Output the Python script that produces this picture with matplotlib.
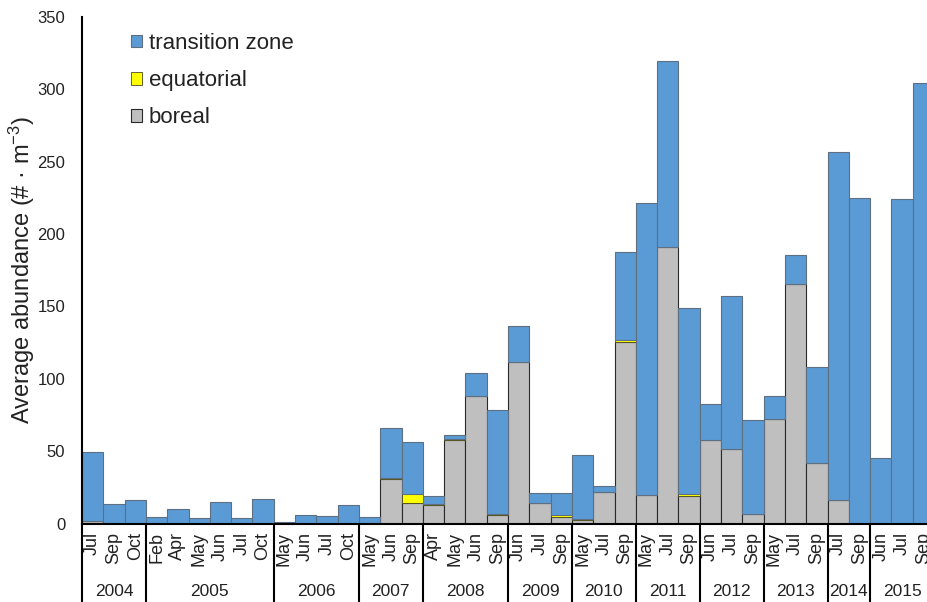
import matplotlib
matplotlib.use("Agg")
import matplotlib.pyplot as plt
import matplotlib.transforms as mtransforms
import numpy as np

plt.rcParams['font.family'] = ['Liberation Sans', 'DejaVu Sans']
plt.rcParams['mathtext.default'] = 'regular'

months = ['Jul', 'Sep', 'Oct',
          'Feb', 'Apr', 'May', 'Jun', 'Jul', 'Oct',
          'May', 'Jun', 'Jul', 'Oct',
          'May', 'Jun', 'Sep',
          'Apr', 'May', 'Jun', 'Sep',
          'Jun', 'Jul', 'Sep',
          'May', 'Jul', 'Sep',
          'May', 'Jul', 'Sep',
          'Jun', 'Jul', 'Sep',
          'May', 'Jul', 'Sep',
          'Jul', 'Sep',
          'Jun', 'Jul', 'Sep']
years = ['2004', '2005', '2006', '2007', '2008', '2009', '2010', '2011',
         '2012', '2013', '2014', '2015']
year_sizes = [3, 6, 4, 3, 4, 3, 3, 3, 3, 3, 2, 3]

boreal = [1.6, 0, 0,
          0, 0, 0, 0, 0, 0,
          0, 0, 0, 0,
          0.6, 31.0, 14.0,
          12.8, 57.5, 88.2, 5.8,
          111.7, 14.0, 4.7,
          2.3, 21.7, 125.7,
          19.9, 191.1, 19.2,
          57.9, 51.4, 6.5,
          71.9, 165.4, 41.6,
          16.4, 0,
          0, 0, 0]
equatorial = [0, 0, 0,
              0, 0, 0, 0, 0, 0,
              0, 0, 0, 0,
              0, 0.5, 6.2,
              0.9, 0.7, 0, 0.8,
              0, 0, 1.5,
              0.7, 0, 0.9,
              0, 0, 1.1,
              0, 0, 0,
              0, 0, 0.5,
              0, 0,
              0, 0, 0]
transition = [48.0, 13.3, 16.0,
              4.7, 10.0, 4.0, 14.6, 4.0, 16.7,
              0.8, 6.1, 5.4, 12.8,
              3.7, 34.3, 36.2,
              5.3, 3.0, 15.7, 71.7,
              25.0, 7.0, 14.8,
              44.4, 4.0, 60.7,
              201.5, 128.7, 128.7,
              25.0, 105.6, 65.0,
              16.4, 20.3, 65.8,
              240.5, 224.7,
              45.1, 224.2, 304.1]

W, H = 927, 602
fig = plt.figure(figsize=(W / 100, H / 100), dpi=100)
x0, x1 = 82, 934
y0, y1 = 523.5, 17
ax = fig.add_axes([x0 / W, 1 - y0 / H, (x1 - x0) / W, (y0 - y1) / H])

x = np.arange(len(months))
b = np.array(boreal)
e = np.array(equatorial)
t = np.array(transition)
txtc = '#222222'

ax.bar(x, b, width=1.0, color='#BFBFBF', edgecolor='#2a2a2a', linewidth=0.8, label='boreal')
ax.bar(x, e, width=1.0, bottom=b, color='#FFFF00', edgecolor='#4a4a20', linewidth=0.6, label='equatorial')
ax.bar(x, t, width=1.0, bottom=b + e, color='#5B9BD5', edgecolor='#5f6f82', linewidth=0.8, label='transition zone')

ax.set_xlim(-0.5, len(months) - 0.5)
ax.set_ylim(0, 350)
ax.set_yticks(np.arange(0, 351, 50))
for s in ['top', 'right']:
    ax.spines[s].set_visible(False)
ax.spines['left'].set_linewidth(1.5)
ax.spines['bottom'].set_linewidth(1.5)
ax.spines['left'].set_color('black')
ax.spines['bottom'].set_color('black')
ax.tick_params(axis='y', length=0, pad=12, labelsize=12, labelcolor=txtc)
ax.set_xticks(x)
ax.set_xticklabels(months, rotation=90, fontsize=13, color=txtc)
ax.tick_params(axis='x', length=0, pad=6)

trans = mtransforms.blended_transform_factory(ax.transData, ax.transAxes)
bottom_ax = -(H - y0 + 5) / (y0 - y1)
year_y = -(592 - y0) / (y0 - y1)
start = 0
bounds = [0]
for yr, n in zip(years, year_sizes):
    ax.text(start + n / 2 - 0.5, year_y, yr, transform=trans, ha='center', va='center',
            fontsize=12.5, color=txtc)
    start += n
    bounds.append(start)
for bd in bounds:
    ax.plot([bd - 0.5, bd - 0.5], [0, bottom_ax], transform=trans, color='black',
            linewidth=1.5, clip_on=False, solid_capstyle='butt')

fig.text(22 / W, 1 - 270 / H, 'Average abundance (# · m$^{-3}$)', rotation=90,
         ha='center', va='center', fontsize=17, color=txtc)

handles, labels = ax.get_legend_handles_labels()
leg = ax.legend(handles[::-1], labels[::-1], loc='upper left',
                bbox_to_anchor=((131 - x0) / (x1 - x0), (y0 - 33) / (y0 - y1)),
                frameon=False, fontsize=16, handlelength=0.5, handleheight=0.5,
                handletextpad=0.3, labelspacing=0.73, borderaxespad=0, borderpad=0)
for txt in leg.get_texts():
    txt.set_color(txtc)

fig.savefig('out.png', dpi=100)
